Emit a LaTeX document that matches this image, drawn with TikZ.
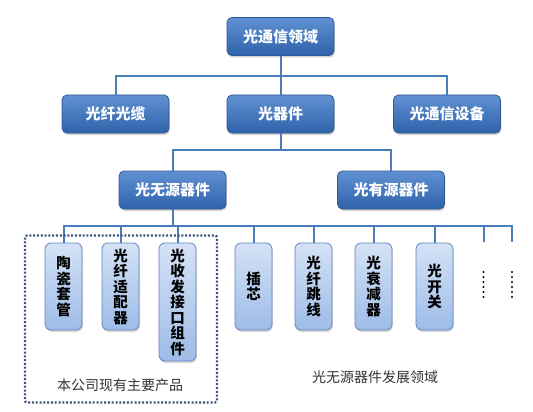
\documentclass[tikz,border=0pt]{standalone}
\usepackage{fontspec}
\setmainfont{Noto Sans CJK SC}
\usetikzlibrary{shadows}
\definecolor{linkblue}{RGB}{74,126,187}
\definecolor{bigtop}{RGB}{96,145,210}
\definecolor{bigbot}{RGB}{46,98,170}
\definecolor{bigedge}{RGB}{45,88,150}
\definecolor{smtop}{RGB}{212,226,245}
\definecolor{smbot}{RGB}{158,188,232}
\definecolor{smedge}{RGB}{95,134,191}
\definecolor{frame}{RGB}{60,84,120}
\tikzset{
  bigbox/.style={draw=bigedge, line width=0.8pt, rounded corners=5pt,
    top color=bigtop, bottom color=bigbot, text=white,
    minimum width=107pt, minimum height=38pt, inner sep=0pt,
    font=\fontsize{15}{17}\selectfont\bfseries,
    drop shadow={shadow xshift=0.8pt, shadow yshift=-2pt, opacity=0.35}},
  smallbox/.style={draw=smedge, line width=0.8pt, rounded corners=6pt,
    top color=smtop, bottom color=smbot, text=black,
    minimum width=37pt, inner sep=0pt, align=center,
    font=\fontsize{14.5}{15.5}\selectfont\bfseries,
    drop shadow={shadow xshift=0.8pt, shadow yshift=-2pt, opacity=0.3}},
  link/.style={draw=linkblue, line width=2pt},
  caption/.style={text=black!80, font=\fontsize{14}{16}\selectfont},
  dotmark/.style={fill=black, inner sep=0pt, minimum size=2.4pt, circle}
}
\begin{document}
\begin{tikzpicture}[x=1pt,y=-1pt]
\useasboundingbox (0,0) rectangle (533,412);
% junctions
\coordinate (j1) at (280.5,76);
\coordinate (j2) at (280.5,150);
\coordinate (j3) at (172.5,226);
\coordinate (e1) at (483.5,242);
\coordinate (e2) at (512,242);
% boxes
\node[bigbox] (top) at (280.5,36.5) {光通信领域};
\node[bigbox] (b1) at (115.5,114) {光纤光缆};
\node[bigbox] (b2) at (280.5,114) {光器件};
\node[bigbox] (b3) at (447,114) {光通信设备};
\node[bigbox] (c1) at (172.5,190) {光无源器件};
\node[bigbox] (c2) at (391,190) {光有源器件};
\node[smallbox, minimum height=87pt] (d1) at (63.5,286.5) {陶\\瓷\\套\\管};
\node[smallbox, minimum height=87pt] (d2) at (120.5,286.5) {光\\纤\\适\\配\\器};
\node[smallbox, minimum height=118pt] (d3) at (177.5,302) {光\\收\\发\\接\\口\\组\\件};
\node[smallbox, minimum height=87pt] (d4) at (253.5,286.5) {插\\芯};
\node[smallbox, minimum height=87pt] (d5) at (313.5,286.5) {光\\纤\\跳\\线};
\node[smallbox, minimum height=87pt] (d6) at (373.5,286.5) {光\\衰\\减\\器};
\node[smallbox, minimum height=87pt] (d7) at (434.5,286.5) {光\\开\\关};
% connectors
\draw[link] (top.south) -- (j1);
\draw[link] (b1.north) |- (j1) -| (b3.north);
\draw[link] (j1) -- (b2.north);
\draw[link] (b2.south) -- (j2);
\draw[link] (c1.north) |- (j2) -| (c2.north);
\draw[link] (c1.south) -- (j3);
\draw[link] (d1.north) |- (j3) -| (e2);
\foreach \n in {d2,d3,d4,d5,d6,d7} \draw[link] (\n.north) -- (\n.north |- j3);
\draw[link] (e1) -- (e1 |- j3);
% ellipsis dots
\foreach \k in {0,...,5} {
  \node[dotmark] (da\k) at (483.5,272+5*\k) {};
  \node[dotmark] (db\k) at (512,272+5*\k) {};
}
% dotted frame
\draw[frame, line width=2.2pt, dash pattern=on 2pt off 1.8pt, rounded corners=2pt]
  (25,235.5) rectangle (217,402.5);
\node[caption] (cap1) at (120,385) {本公司现有主要产品};
\node[caption] (cap2) at (375,377) {光无源器件发展领域};
\end{tikzpicture}
\end{document}
